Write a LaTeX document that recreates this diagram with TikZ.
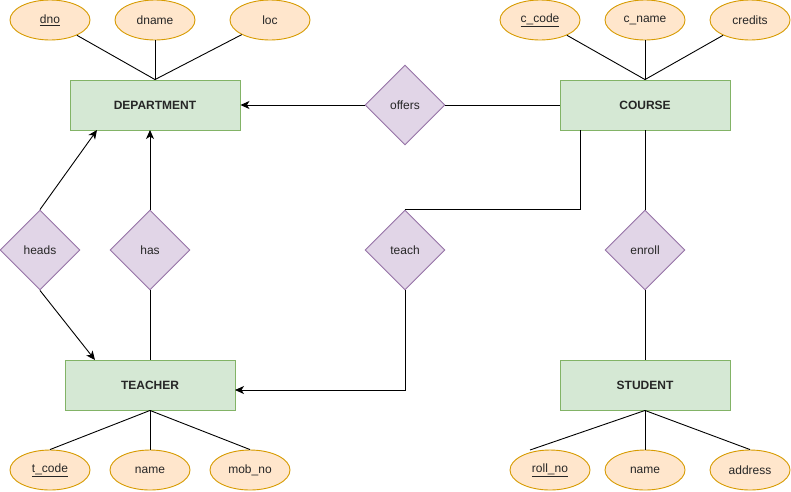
\documentclass[tikz,border=0pt]{standalone}
\usepackage{fontspec}
\setmainfont{Liberation Sans}
\usetikzlibrary{shapes.geometric,arrows.meta,calc}
\definecolor{attrfill}{HTML}{FFE6CC}
\definecolor{attrdraw}{HTML}{D79B00}
\definecolor{entfill}{HTML}{D5E8D4}
\definecolor{entdraw}{HTML}{82B366}
\definecolor{relfill}{HTML}{E1D5E7}
\definecolor{reldraw}{HTML}{9673A6}
\tikzset{
  attr/.style={ellipse, draw=attrdraw, fill=attrfill, line width=0.9pt, minimum width=80pt, minimum height=40pt, inner sep=0pt, font=\fontsize{12}{14}\selectfont, text=black!85},
  ent/.style={rectangle, draw=entdraw, fill=entfill, line width=0.9pt, minimum width=170pt, minimum height=50pt, inner sep=0pt, font=\fontsize{12}{14}\selectfont\bfseries, text=black!85},
  rel/.style={diamond, aspect=1, draw=reldraw, fill=relfill, line width=0.9pt, minimum width=80pt, minimum height=80pt, inner sep=0pt, font=\fontsize{12}{14}\selectfont, text=black!85},
  conn/.style={line width=0.9pt, draw=black},
  arr/.style={conn, -{Stealth[length=9pt,width=8pt,inset=2.5pt]}}
}
\begin{document}
\begin{tikzpicture}[x=1pt,y=-1pt]
\useasboundingbox (0,0) rectangle (791,491);
% entities
\node[ent] (dept) at (155,105) {DEPARTMENT};
\node[ent] (course) at (645,105) {COURSE};
\node[ent] (teacher) at (150,385) {TEACHER};
\node[ent] (student) at (645,385) {STUDENT};
% relationships
\node[rel] (offers) at (405,105) {offers};
\node[rel] (heads) at (40,250) {heads};
\node[rel] (has) at (150,250) {has};
\node[rel] (teach) at (405,250) {teach};
\node[rel] (enroll) at (645,250) {enroll};
% attributes
\node[attr] (dno) at (50,20) {\underline{dno}};
\node[attr] (dname) at (155,20) {dname};
\node[attr] (loc) at (270,20) {loc};
\node[attr] (ccode) at (540,20) {\underline{c\_code}};
\node[attr] (cname) at (645,20) {c\_name};
\node[attr] (credits) at (750,20) {credits};
\node[attr] (tcode) at (50,470) {\underline{t\_code}};
\node[attr] (tname) at (150,470) {name};
\node[attr] (mobno) at (250,470) {mob\_no};
\node[attr] (rollno) at (550,470) {\underline{roll\_no}};
\node[attr] (sname) at (645,470) {name};
\node[attr] (address) at (750,470) {address};
% helper coordinates
\coordinate (dheads) at (97,130);
\coordinate (dhas) at (150,130);
\coordinate (theads) at (95,360);
\coordinate (cteach) at (580,130);
\coordinate (tteach) at (235,390);
\coordinate (rolltop) at (530,450);
% attribute connectors
\draw[conn] (dno) -- (dept.north);
\draw[conn] (dname) -- (dept.north);
\draw[conn] (loc) -- (dept.north);
\draw[conn] (ccode) -- (course.north);
\draw[conn] (cname) -- (course.north);
\draw[conn] (credits) -- (course.north);
\draw[conn] (teacher.south) -- (tcode.north);
\draw[conn] (teacher.south) -- (tname.north);
\draw[conn] (teacher.south) -- (mobno.north);
\draw[conn] (student.south) -- (rolltop);
\draw[conn] (student.south) -- (sname.north);
\draw[conn] (student.south) -- (address.north);
% relationship connectors
\draw[conn] (course.west) -- (offers.east);
\draw[arr] (offers.west) -- (dept.east);
\draw[arr] (heads.north) -- (dheads);
\draw[arr] (heads.south) -- (theads);
\draw[arr] (has.north) -- (dhas);
\draw[conn] (has.south) -- (teacher.north);
\draw[conn] (cteach) |- (teach.north);
\draw[arr] (teach.south) |- (tteach);
\draw[conn] (course.south) -- (enroll.north);
\draw[conn] (enroll.south) -- (student.north);
\end{tikzpicture}
\end{document}
